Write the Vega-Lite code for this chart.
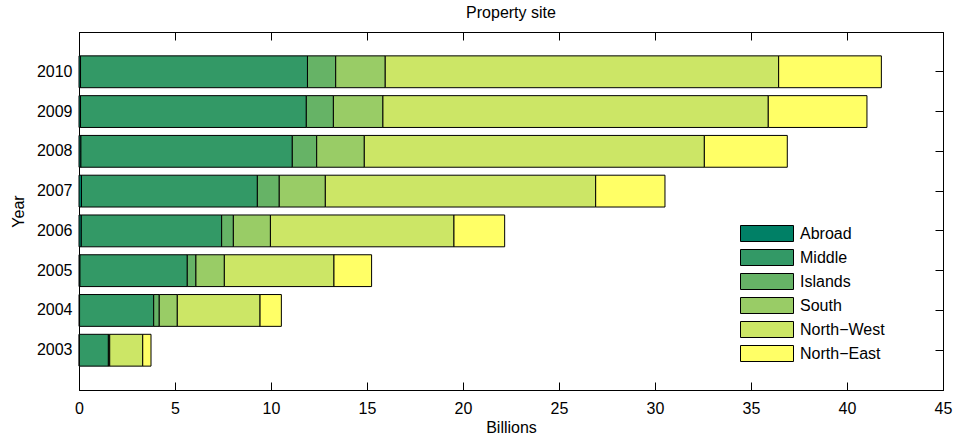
{
  "$schema": "https://vega.github.io/schema/vega-lite/v6.json",
  "autosize": {"type": "none"},
  "padding": {"left": 79, "top": 32, "right": 16, "bottom": 52},
  "width": 864,
  "height": 358,
  "background": "white",
  "title": {
    "text": "Property site",
    "font": "Liberation Sans",
    "fontSize": 16,
    "fontWeight": "normal",
    "color": "black",
    "anchor": "middle",
    "offset": 11
  },
  "config": {
    "view": {"stroke": "black", "strokeWidth": 1},
    "font": "Liberation Sans",
    "axis": {
      "labelFont": "Liberation Sans",
      "labelFontSize": 16,
      "labelColor": "black",
      "labelFlush": false,
      "titleFont": "Liberation Sans",
      "titleFontSize": 16,
      "titleFontWeight": "normal",
      "titleColor": "black",
      "domainColor": "black",
      "domainWidth": 1,
      "tickColor": "black",
      "tickWidth": 1,
      "tickSize": -8,
      "grid": false
    }
  },
  "data": {
    "values": [
      {"year": "2003", "region": "Abroad", "value": 0.02},
      {"year": "2003", "region": "Middle", "value": 1.51},
      {"year": "2003", "region": "Islands", "value": 0.02},
      {"year": "2003", "region": "South", "value": 0.05},
      {"year": "2003", "region": "North−West", "value": 1.72},
      {"year": "2003", "region": "North−East", "value": 0.43},
      {"year": "2004", "region": "Abroad", "value": 0.03},
      {"year": "2004", "region": "Middle", "value": 3.86},
      {"year": "2004", "region": "Islands", "value": 0.29},
      {"year": "2004", "region": "South", "value": 0.94},
      {"year": "2004", "region": "North−West", "value": 4.31},
      {"year": "2004", "region": "North−East", "value": 1.11},
      {"year": "2005", "region": "Abroad", "value": 0.05},
      {"year": "2005", "region": "Middle", "value": 5.59},
      {"year": "2005", "region": "Islands", "value": 0.45},
      {"year": "2005", "region": "South", "value": 1.48},
      {"year": "2005", "region": "North−West", "value": 5.71},
      {"year": "2005", "region": "North−East", "value": 1.96},
      {"year": "2006", "region": "Abroad", "value": 0.12},
      {"year": "2006", "region": "Middle", "value": 7.31},
      {"year": "2006", "region": "Islands", "value": 0.61},
      {"year": "2006", "region": "South", "value": 1.93},
      {"year": "2006", "region": "North−West", "value": 9.56},
      {"year": "2006", "region": "North−East", "value": 2.64},
      {"year": "2007", "region": "Abroad", "value": 0.13},
      {"year": "2007", "region": "Middle", "value": 9.16},
      {"year": "2007", "region": "Islands", "value": 1.14},
      {"year": "2007", "region": "South", "value": 2.4},
      {"year": "2007", "region": "North−West", "value": 14.08},
      {"year": "2007", "region": "North−East", "value": 3.61},
      {"year": "2008", "region": "Abroad", "value": 0.1},
      {"year": "2008", "region": "Middle", "value": 11.01},
      {"year": "2008", "region": "Islands", "value": 1.27},
      {"year": "2008", "region": "South", "value": 2.48},
      {"year": "2008", "region": "North−West", "value": 17.71},
      {"year": "2008", "region": "North−East", "value": 4.32},
      {"year": "2009", "region": "Abroad", "value": 0.08},
      {"year": "2009", "region": "Middle", "value": 11.76},
      {"year": "2009", "region": "Islands", "value": 1.41},
      {"year": "2009", "region": "South", "value": 2.58},
      {"year": "2009", "region": "North−West", "value": 20.07},
      {"year": "2009", "region": "North−East", "value": 5.14},
      {"year": "2010", "region": "Abroad", "value": 0.08},
      {"year": "2010", "region": "Middle", "value": 11.82},
      {"year": "2010", "region": "Islands", "value": 1.47},
      {"year": "2010", "region": "South", "value": 2.58},
      {"year": "2010", "region": "North−West", "value": 20.49},
      {"year": "2010", "region": "North−East", "value": 5.35}
    ]
  },
  "transform": [
    {"calculate": "indexof(['Abroad','Middle','Islands','South','North−West','North−East'], datum.region)", "as": "stackOrder"}
  ],
  "layer": [
    {
      "mark": {"type": "bar", "stroke": "black", "strokeWidth": 1, "opacity": 1},
      "encoding": {
        "x": {
          "field": "value",
          "type": "quantitative",
          "aggregate": "sum",
          "title": "Billions",
          "scale": {"domain": [0, 45], "nice": false, "zero": true},
          "axis": {"orient": "bottom", "values": [0, 5, 10, 15, 20, 25, 30, 35, 40, 45], "labelPadding": 18, "titlePadding": 3}
        },
        "y": {
          "field": "year",
          "type": "ordinal",
          "title": "Year",
          "scale": {
            "domain": ["2010", "2009", "2008", "2007", "2006", "2005", "2004", "2003"],
            "paddingInner": 0.2,
            "paddingOuter": 0.6
          },
          "axis": {"orient": "left", "labelPadding": 15, "titlePadding": 10}
        },
        "color": {
          "field": "region",
          "type": "nominal",
          "title": null,
          "scale": {
            "domain": ["Abroad", "Middle", "Islands", "South", "North−West", "North−East"],
            "range": ["#008066", "#339966", "#66b366", "#99cc66", "#cce666", "#ffff66"]
          },
          "legend": {
            "orient": "none",
            "legendX": 661,
            "legendY": 193,
            "symbolType": "M-1,-1H5.625V1H-1Z",
            "symbolSize": 256,
            "symbolStrokeColor": "black",
            "symbolStrokeWidth": 1,
            "symbolOpacity": 1,
            "rowPadding": 3,
            "labelOffset": 43,
            "labelFont": "Liberation Sans",
            "labelFontSize": 16,
            "labelColor": "black",
            "padding": 0
          }
        },
        "order": {"field": "stackOrder", "type": "quantitative"}
      }
    },
    {
      "mark": {"type": "bar", "opacity": 0},
      "encoding": {
        "x": {
          "field": "value",
          "type": "quantitative",
          "aggregate": "sum",
          "axis": {"orient": "top", "values": [0, 5, 10, 15, 20, 25, 30, 35, 40, 45], "labels": false, "title": null}
        },
        "y": {
          "field": "year",
          "type": "ordinal",
          "axis": {"orient": "right", "labels": false, "title": null}
        }
      }
    }
  ],
  "resolve": {"axis": {"x": "independent", "y": "independent"}}
}
